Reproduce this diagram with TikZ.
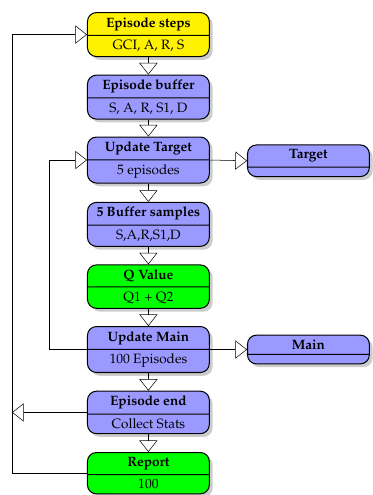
\documentclass[tikz,border=0pt]{standalone}
\usepackage[T1]{fontenc}
\usepackage{mathpazo}
\usepackage{tikz}
\usetikzlibrary{shapes.multipart, arrows.meta, shadows, calc}

\begin{document}
\begin{tikzpicture}[every node/.style={font=\fontsize{10.6}{12.7}\selectfont},
    stage/.style={rectangle split, rectangle split parts=2, draw, thick,
      rounded corners=7pt, minimum width=3.35cm,
      drop shadow={shadow xshift=0.9mm, shadow yshift=-0.9mm, opacity=0.4}},
    flow/.style={-{Triangle[open, length=0.32cm, width=0.5cm]}}]
  \useasboundingbox (0, 0) rectangle (10.23, -13.61);

  \node[stage, fill=yellow] (steps) at (4.08, -0.95)
    {\textbf{Episode steps}\nodepart{two}GCI, A, R, S};
  \node[stage, fill=blue!40] (buffer) at (4.08, -2.67)
    {\textbf{Episode buffer}\nodepart{two}S, A, R, S1, D};
  \node[stage, fill=blue!40] (updtarget) at (4.08, -4.40)
    {\textbf{Update Target}\nodepart{two}5 episodes};
  \node[stage, fill=blue!40] (samples) at (4.08, -6.17)
    {\textbf{5 Buffer samples}\nodepart{two}S,A,R,S1,D};
  \node[stage, fill=green] (qvalue) at (4.08, -7.88)
    {\textbf{Q Value}\nodepart{two}Q1 + Q2};
  \node[stage, fill=blue!40] (updmain) at (4.08, -9.61)
    {\textbf{Update Main}\nodepart{two}100 Episodes};
  \node[stage, fill=blue!40] (epend) at (4.08, -11.34)
    {\textbf{Episode end}\nodepart{two}Collect Stats};
  \node[stage, fill=green] (report) at (4.08, -13.01)
    {\textbf{Report}\nodepart{two}100};

  \node[stage, fill=blue!40] (target) at (8.48, -4.42)
    {\textbf{Target}\nodepart{two}\rule{1pt}{0pt}};
  \node[stage, fill=blue!40] (main) at (8.48, -9.61)
    {\textbf{Main}\nodepart{two}\rule{1pt}{0pt}};

  \coordinate (outer) at (0.33, 0);
  \coordinate (inner) at (1.35, 0);

  \draw[flow] (steps) -- (buffer);
  \draw[flow] (buffer) -- (updtarget);
  \draw[flow] (updtarget) -- (samples);
  \draw[flow] (samples) -- (qvalue);
  \draw[flow] (qvalue) -- (updmain);
  \draw[flow] (updmain) -- (epend);
  \draw[flow] (epend) -- (report);

  % side outputs
  \draw[flow] (updtarget.east) -- (target.west);
  \draw[flow] (updmain.east) -- (main.west);

  % loops
  \draw (updmain.west) -- (updmain.west -| inner);
  \draw[flow] (updmain.west -| inner) |- (updtarget.west);
  \draw (report.west) -- (report.west -| outer);
  \draw[flow] (report.west -| outer) |- (steps.west);
  \draw[flow] (epend.west) -- (epend.west -| outer);
\end{tikzpicture}
\end{document}
